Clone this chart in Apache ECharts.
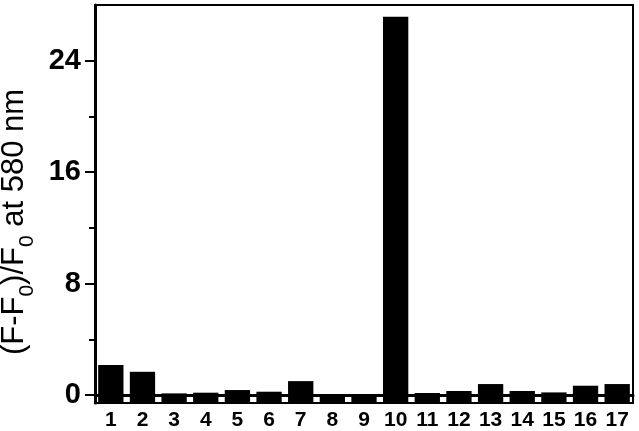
<!DOCTYPE html>
<html>
<head>
<meta charset="utf-8">
<script src="https://cdn.jsdelivr.net/npm/echarts@6/dist/echarts.min.js"></script>
<style>
html,body{margin:0;padding:0;background:#fff;}
#chart{width:639px;height:431px;}
</style>
</head>
<body>
<div id="chart"></div>
<script>
const categories = ['1','2','3','4','5','6','7','8','9','10','11','12','13','14','15','16','17'];
const values = [2.15, 1.67, 0.12, 0.17, 0.36, 0.24, 1.0, 0.06, 0.06, 27.15, 0.15, 0.29, 0.79, 0.29, 0.19, 0.67, 0.79];
const yMajorTicks = [0, 8, 16, 24];
const yMinorTicks = [4, 12, 20];
const Y_MIN = -0.57;
const Y_MAX = 28;

const chart = echarts.init(document.getElementById('chart'), null, {renderer: 'canvas'});
const FONT = '"Liberation Sans", Arial, sans-serif';

chart.setOption({
  animation: false,
  backgroundColor: '#fff',
  grid: {left: 95, right: 6, top: 5, bottom: 28, show: true, borderColor: '#000', borderWidth: 2, backgroundColor: 'transparent', outerBoundsMode: 'none', containLabel: false},
  xAxis: {
    type: 'category',
    data: categories,
    axisLine: {lineStyle: {color: '#000', width: 3}},
    axisTick: {show: false},
    axisLabel: {color: '#000', fontFamily: FONT, fontSize: 21, fontWeight: 'bold', margin: 7, interval: 0}
  },
  yAxis: [{
    type: 'value',
    min: Y_MIN,
    max: Y_MAX,
    name: '{m|(F-F}{s|0}{m|)/F}{s|0}{m| at 580 nm}',
    nameLocation: 'middle',
    nameRotate: 90,
    nameGap: 57,
    nameTextStyle: {
      padding: [0, 36, 0, 0],
      rich: {
        m: {fontFamily: FONT, fontSize: 31, color: '#000', lineHeight: 31, verticalAlign: 'top'},
        s: {fontFamily: FONT, fontSize: 21, color: '#000', lineHeight: 39, verticalAlign: 'bottom'}
      }
    },
    axisLine: {show: true, lineStyle: {color: '#000', width: 3}},
    axisTick: {show: true, length: 10, lineStyle: {color: '#000', width: 2}, customValues: yMajorTicks},
    axisLabel: {color: '#000', fontFamily: FONT, fontSize: 29, fontWeight: 'bold', margin: 14, customValues: yMajorTicks},
    splitLine: {show: false}
  }, {
    type: 'value',
    min: Y_MIN,
    max: Y_MAX,
    position: 'left',
    axisLine: {show: false},
    axisTick: {show: true, length: 6, lineStyle: {color: '#000', width: 2}, customValues: yMinorTicks},
    axisLabel: {show: false},
    splitLine: {show: false}
  }],
  series: [{
    type: 'custom',
    xAxisIndex: 0,
    yAxisIndex: 0,
    data: values.map((v, i) => [i, v]),
    encode: {x: 0, y: 1},
    renderItem: function (params, api) {
      const i = api.value(0);
      const v = api.value(1);
      const top = api.coord([i, v]);
      const base = api.coord([i, Y_MIN]);
      const w = api.size([1, 0])[0] * 0.8;
      return {
        type: 'rect',
        shape: {x: top[0] - w / 2, y: top[1], width: w, height: base[1] - top[1]},
        style: {fill: '#000'}
      };
    }
  }]
});
</script>
</body>
</html>
